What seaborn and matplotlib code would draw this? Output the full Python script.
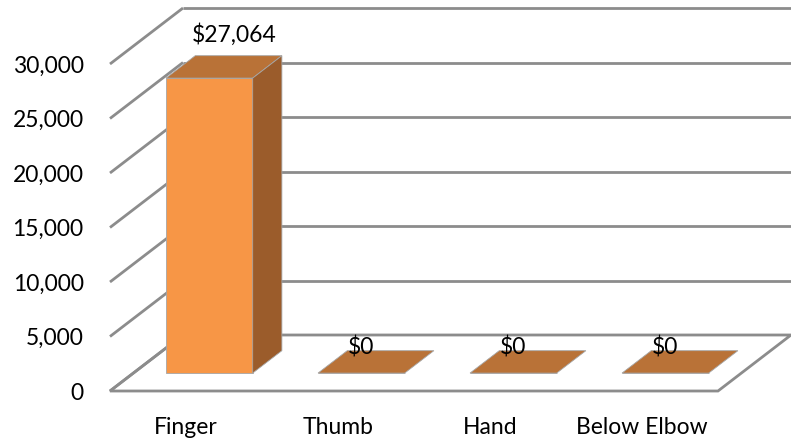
import matplotlib
matplotlib.use("Agg")
import matplotlib.pyplot as plt
from matplotlib.patches import Polygon
from matplotlib.ticker import FuncFormatter
import seaborn as sns
import pandas as pd

# Amputation cost by level
categories = ["Finger", "Thumb", "Hand", "Below Elbow"]
costs = [27064, 0, 0, 0]
value_labels = ["$27,064", "$0", "$0", "$0"]
y_ticks = [0, 5000, 10000, 15000, 20000, 25000, 30000]

FRONT = "#F79646"
TOP = "#B97237"
SIDE = "#9B5C2B"
GRID = "#8C8C8C"
EDGE = "#A6A6A6"
FS = 16.5

sns.set_theme(style="white")
plt.rcParams["font.family"] = ["Lato", "DejaVu Sans"]

W, H = 791, 440
fig = plt.figure(figsize=(W / 100, H / 100), dpi=100)

# front plane of the box, in pixels
x0, x1 = 110, 718
y_bot, y_top = 391, 64
ax = fig.add_axes([x0 / W, (H - y_bot) / H, (x1 - x0) / W, (y_bot - y_top) / H])
ax.set_xlim(-0.5, len(categories) - 0.5)
ax.set_ylim(0, 30000)

# pixel -> data unit factors
ux = len(categories) / (x1 - x0)
uy = 30000 / (y_bot - y_top)
# full depth of the box (to the back wall)
DX, DY = 73 * ux, 56 * uy
# bar depth range as a fraction of the box depth
f_front, f_back = 0.32, 0.72

df = pd.DataFrame({"level": categories, "cost": costs})
sns.barplot(data=df, x="level", y="cost", color=FRONT, saturation=1, width=0.57,
            edgecolor=EDGE, linewidth=0.6, ax=ax, zorder=5)

# floor
floor = Polygon([(-0.5, 0), (3.5, 0), (3.5 + DX, DY), (-0.5 + DX, DY)],
                closed=True, facecolor="white", edgecolor=GRID, linewidth=2.0,
                clip_on=False, zorder=1)
ax.add_patch(floor)

# back-wall gridlines and their diagonal guides on the left wall
for v in y_ticks[1:]:
    ax.plot([-0.5 + DX, 3.5 + DX + 0.05], [v + DY, v + DY], color=GRID, lw=2.0,
            clip_on=False, zorder=2, solid_capstyle="butt")
for v in y_ticks:
    ax.plot([-0.5, -0.5 + DX], [v, v + DY], color=GRID, lw=2.0,
            clip_on=False, zorder=2, solid_capstyle="butt")

# extrude every bar into a box
ddx0, ddy0 = f_front * DX, f_front * DY
ddx, ddy = (f_back - f_front) * DX, (f_back - f_front) * DY
for patch, label in zip(ax.patches[:len(categories)], value_labels):
    bx, bw, bh = patch.get_x(), patch.get_width(), patch.get_height()
    bx += ddx0
    patch.set_x(bx)
    patch.set_y(ddy0)
    patch.set_clip_on(False)
    yb, yt = ddy0, ddy0 + bh
    top = Polygon([(bx, yt), (bx + bw, yt), (bx + bw + ddx, yt + ddy), (bx + ddx, yt + ddy)],
                  closed=True, facecolor=TOP, edgecolor=EDGE, linewidth=0.6,
                  clip_on=False, zorder=5)
    ax.add_patch(top)
    if bh > 0:
        side = Polygon([(bx + bw, yb), (bx + bw + ddx, yb + ddy),
                        (bx + bw + ddx, yt + ddy), (bx + bw, yt)],
                       closed=True, facecolor=SIDE, edgecolor=EDGE, linewidth=0.6,
                       clip_on=False, zorder=5)
        ax.add_patch(side)
        ax.text(bx + bw / 2 + ddx - 4 * ux, yt + ddy + 21 * uy, label, ha="center",
                va="center", fontsize=FS, color="black", zorder=10)
    else:
        ax.text(bx + bw / 2, yt + 26 * uy, label, ha="center", va="center",
                fontsize=FS, color="black", zorder=10)

ax.set_yticks(y_ticks)
ax.yaxis.set_major_formatter(FuncFormatter(lambda v, p: f"{int(v):,}"))
ax.tick_params(axis="y", length=0, pad=19, labelsize=FS, labelcolor="black")
ax.tick_params(axis="x", length=0, pad=19, labelsize=FS, labelcolor="black")
ax.set_xlabel("")
ax.set_ylabel("")
for s in ax.spines.values():
    s.set_visible(False)
ax.patch.set_alpha(0)

fig.savefig("out.png", dpi=100)
